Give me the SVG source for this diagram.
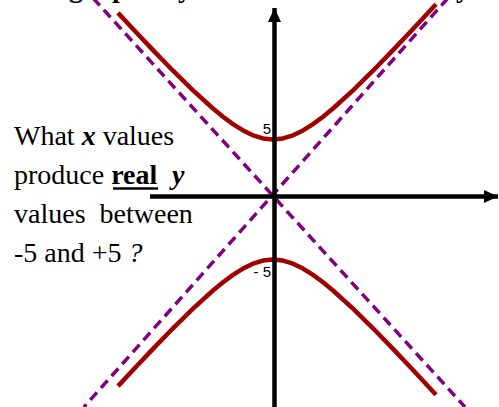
<svg xmlns="http://www.w3.org/2000/svg" width="499" height="407" viewBox="0 0 499 407">
<style>
.axis{stroke:#000;stroke-width:4.5;fill:none}
.asym{stroke:#800080;stroke-width:3.5;stroke-dasharray:10 6;fill:none}
.hyp{stroke:#a00000;stroke-width:4.5;fill:none;stroke-linejoin:round}
.q{font-family:"Liberation Serif","Times New Roman",serif;font-size:28px;fill:#000}
.tick{font-family:"Liberation Sans",Arial,sans-serif;font-size:15px;fill:#000}
</style>
<defs>
<marker id="arr" markerUnits="userSpaceOnUse" markerWidth="14" markerHeight="14" refX="14" refY="6.5" orient="auto">
<path d="M0,0 L14,6.5 L0,13 z" fill="#000"/>
</marker>
</defs>
<rect width="499" height="407" fill="#fff"/>
<g id="title">
<text class="q" font-weight="bold" y="-3"><tspan x="69">g</tspan><tspan x="112">p</tspan><tspan x="178">y</tspan><tspan x="456">y</tspan></text>
</g>
<g id="asymptotes">
<line class="asym" x1="93" y1="-2" x2="465" y2="407"/>
<line class="asym" x1="448" y1="-2" x2="84" y2="407"/>
</g>
<g id="curves">
<polyline class="hyp" points="118,12.9 133,29 153,50.1 173,70.7 193,90.3 213,108.5 223,116.7 233,124.1 243,130.4 253,135.3 263,138.4 273,139.5 283,138.4 293,135.3 303,130.4 313,124.1 323,116.7 333,108.5 353,90.3 373,70.7 393,50.1 413,29 436,4.3"/>
<polyline class="hyp" points="118,386.1 133,370 153,348.9 173,328.3 193,308.7 213,290.5 223,282.3 233,274.9 243,268.6 253,263.7 263,260.6 273,259.5 283,260.6 293,263.7 303,268.6 313,274.9 323,282.3 333,290.5 353,308.7 373,328.3 393,348.9 413,370 436,394.7"/>
</g>
<g id="axes">
<line class="axis" x1="150" y1="196.5" x2="498" y2="196.5" marker-end="url(#arr)"/>
<line class="axis" x1="274.5" y1="407" x2="274.5" y2="8" marker-end="url(#arr)"/>
</g>
<g id="tick-labels">
<text class="tick" x="271" y="134" text-anchor="end">5</text>
<text class="tick" x="271" y="277" text-anchor="end">- 5</text>
</g>
<g id="question">
<text class="q" x="14" y="145">What <tspan font-weight="bold" font-style="italic">x</tspan> values</text>
<text class="q" x="14" y="184">produce <tspan font-weight="bold">real</tspan><tspan x="172" font-weight="bold" font-style="italic">y</tspan></text>
<line x1="113" y1="188.5" x2="158" y2="188.5" stroke="#000" stroke-width="2.5"/>
<text class="q" x="14" y="223" xml:space="preserve">values  between</text>
<text class="q" x="14" y="262">-5 and +5 <tspan font-style="italic">?</tspan></text>
</g>
</svg>
